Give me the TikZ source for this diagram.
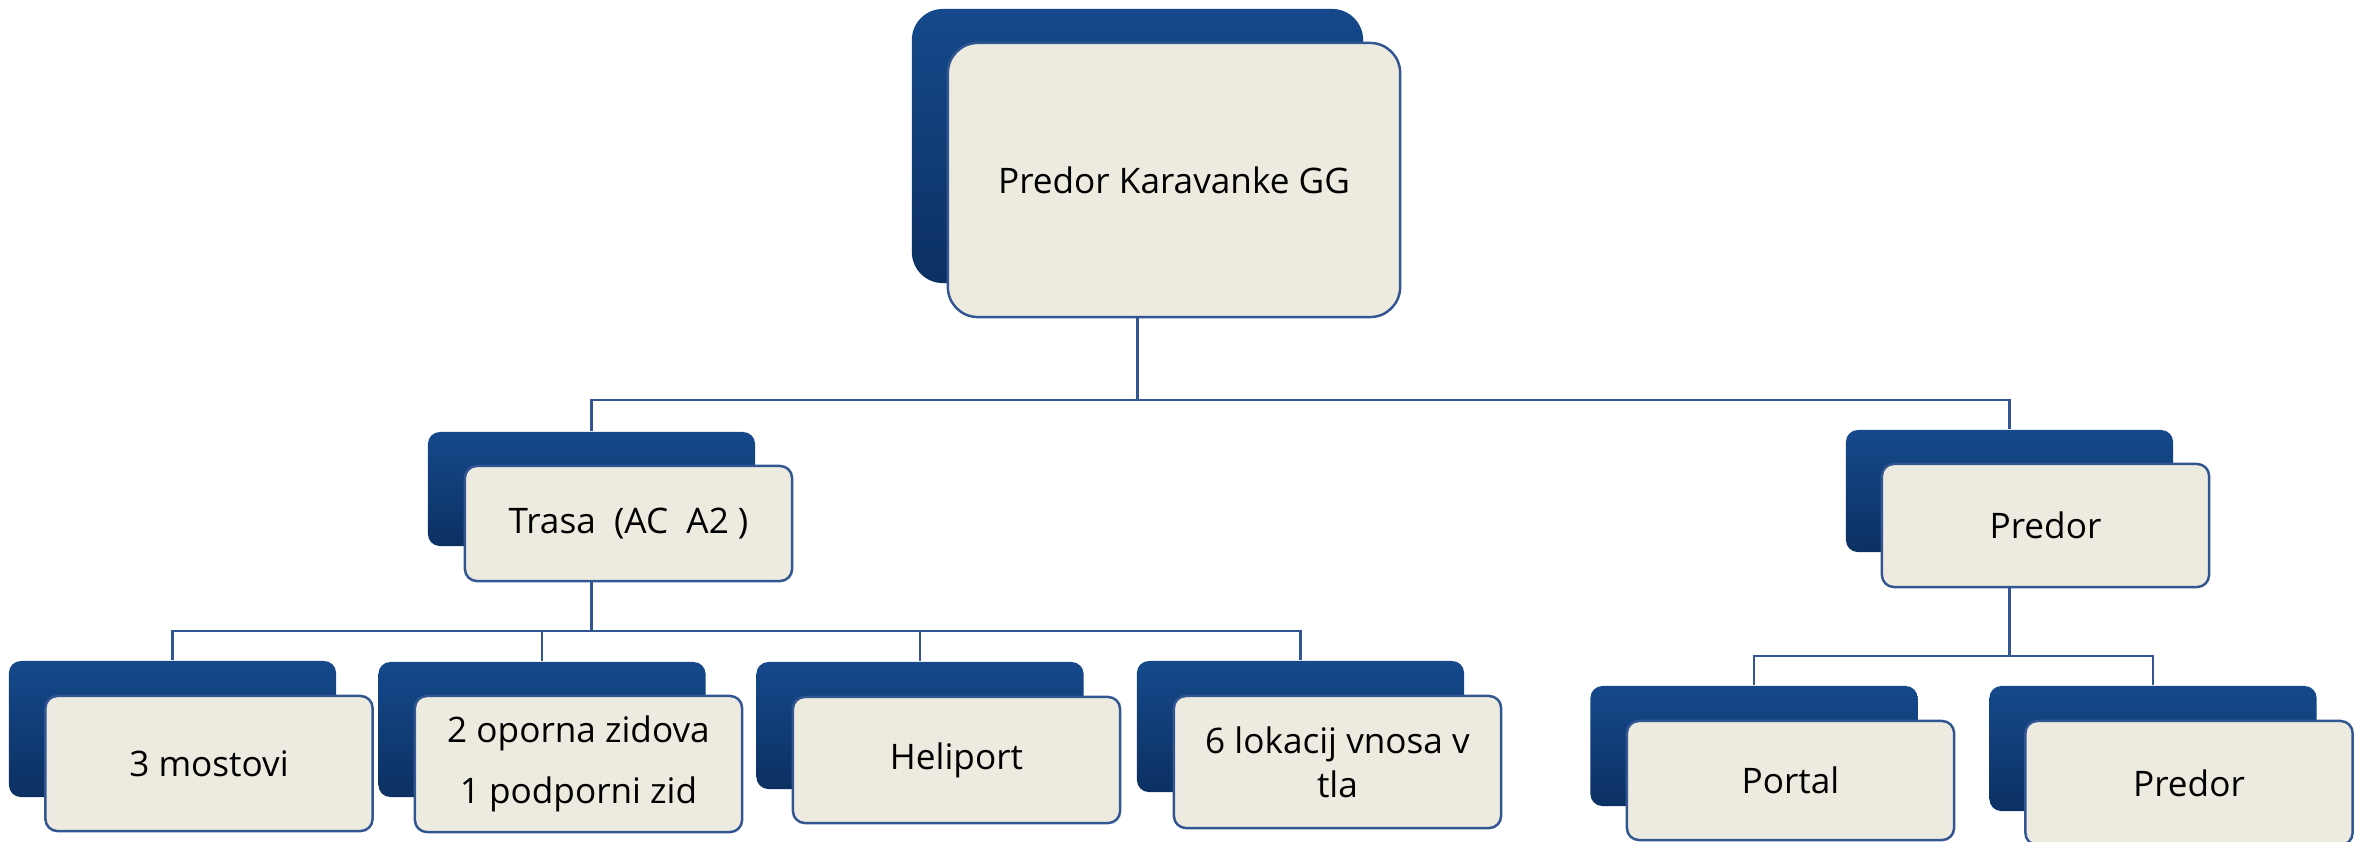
\documentclass[tikz,border=0pt]{standalone}
\usepackage{fontspec}
\setmainfont{Open Sans}
\definecolor{bktop}{RGB}{21,73,139}
\definecolor{bkbot}{RGB}{12,48,98}
\definecolor{cream}{RGB}{237,235,224}
\definecolor{edge}{RGB}{50,86,146}

\tikzset{
  bk/.style = {rounded corners=0.12cm, top color=bktop, bottom color=bkbot,
    draw=none, minimum width=3.27cm, inner sep=0pt},
  fr/.style = {rounded corners=0.12cm, fill=cream, draw=edge, line width=0.7pt,
    minimum width=3.27cm, inner sep=0pt, align=center,
    font=\fontsize{10}{12.4}\selectfont},
  conn/.style = {draw=edge, line width=0.7pt}
}

\begin{document}
\begin{tikzpicture}[x=0.01cm, y=-0.01cm]

    \fill[white] (0,0) rectangle (2362,842);
    \useasboundingbox (0,0) rectangle (2362,842);

    % top level
    \node[bk, rounded corners=0.31cm, minimum width=4.51cm, minimum height=2.74cm] (topbk) at (1137.5,146) {};
    \node[fr, rounded corners=0.30cm, minimum width=4.52cm, minimum height=2.74cm] (top) at (1174,180) {Predor Karavanke GG};

    % second level
    \node[bk, minimum height=1.14cm] (trasabk) at (591.5,489) {};
    \node[fr, minimum height=1.15cm] (trasa) at (628.5,523.5) {Trasa\ \ (AC\ \ A2 )};

    \node[bk, minimum height=1.22cm] (predorbk) at (2009.5,491) {};
    \node[fr, minimum height=1.23cm] (predor) at (2045.5,525.5) {Predor};

    % third level, Trasa
    \node[bk, minimum height=1.36cm] (mostbk) at (172.5,729) {};
    \node[fr, minimum height=1.35cm] (most) at (209,763.5) {3 mostovi};

    \node[bk, minimum height=1.35cm] (zidbk) at (542,729.5) {};
    \node[fr, minimum height=1.36cm] (zid) at (578.5,764) {2 oporna zidova\\[0.18cm]1 podporni zid};

    \node[bk, minimum height=1.27cm] (helibk) at (920,725.5) {};
    \node[fr, minimum height=1.26cm] (heli) at (956.5,760) {Heliport};

    \node[bk, minimum height=1.31cm] (tlabk) at (1300.5,726.5) {};
    \node[fr, minimum height=1.32cm] (tla) at (1337.5,762) {6 lokacij vnosa v\\tla};

    % third level, Predor
    \node[bk, minimum height=1.20cm] (portalbk) at (1754,746) {};
    \node[fr, minimum height=1.19cm] (portal) at (1790.5,780.5) {Portal};

    \node[bk, minimum height=1.25cm] (cevbk) at (2153,748.5) {};
    \node[fr, minimum height=1.24cm] (cev) at (2189,783) {Predor};

    % junctions
    \coordinate (j1) at (1137.5,400);
    \coordinate (j2) at (591.5,631);
    \coordinate (j3) at (2009.5,656);

    \draw[conn] (topbk.center |- top.south) -- (j1);
    \draw[conn] (j1) -| (trasabk.north);
    \draw[conn] (j1) -| (predorbk.north);

    \draw[conn] (trasabk.center |- trasa.south) -- (j2);
    \draw[conn] (j2) -| (mostbk.north);
    \draw[conn] (j2) -| (zidbk.north);
    \draw[conn] (j2) -| (helibk.north);
    \draw[conn] (j2) -| (tlabk.north);

    \draw[conn] (predorbk.center |- predor.south) -- (j3);
    \draw[conn] (j3) -| (portalbk.north);
    \draw[conn] (j3) -| (cevbk.north);

\end{tikzpicture}
\end{document}
